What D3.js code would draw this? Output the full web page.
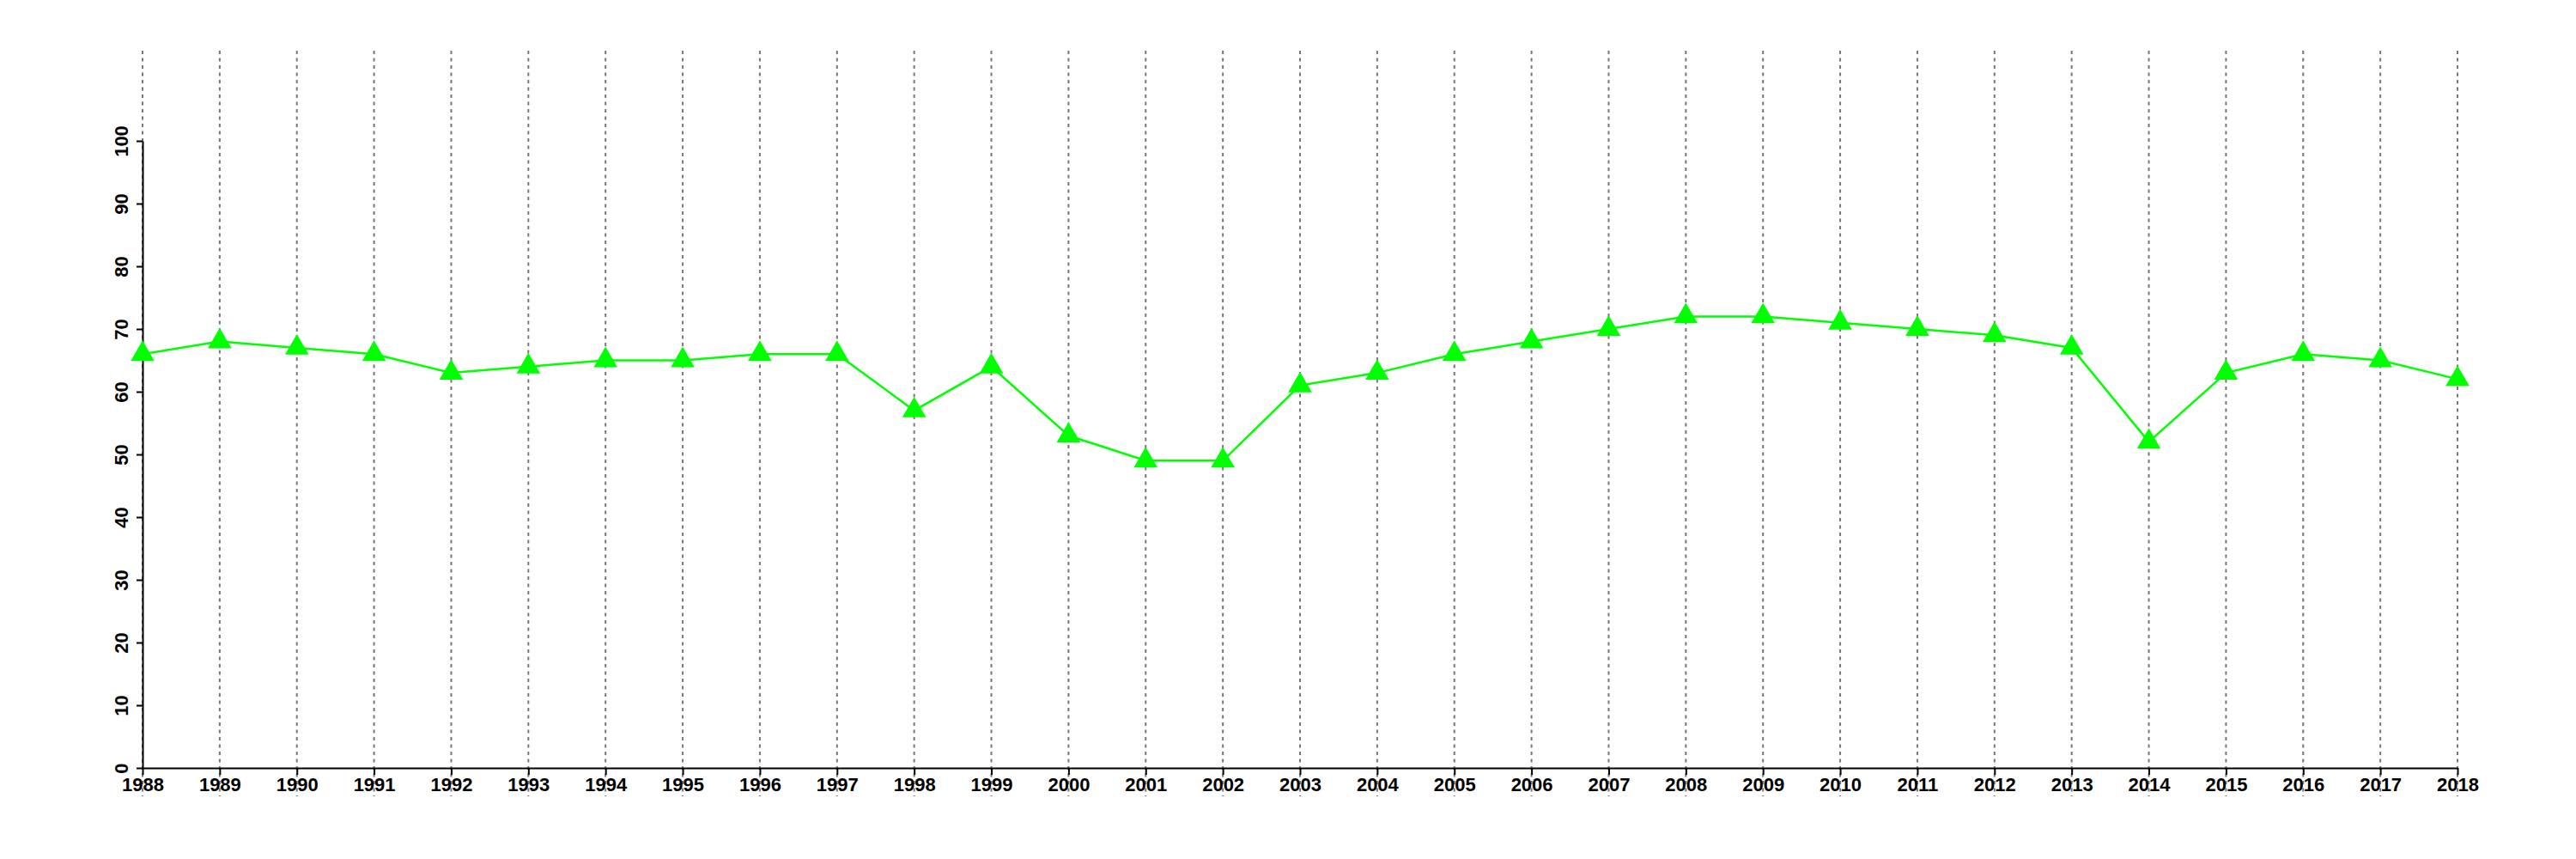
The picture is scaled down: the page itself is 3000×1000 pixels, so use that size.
<!DOCTYPE html>
<html>
<head>
<meta charset="utf-8">
<script src="https://cdn.jsdelivr.net/npm/d3@7"></script>
<style>
html,body{margin:0;padding:0;background:#fff;}
svg{display:block;}
.tick text{font-family:"Liberation Sans",Arial,Helvetica,sans-serif;font-weight:bold;font-size:22px;fill:#000;}
</style>
</head>
<body>
<svg id="chart" width="3000" height="1000"></svg>
<script>
const years = [1988,1989,1990,1991,1992,1993,1994,1995,1996,1997,1998,1999,2000,2001,2002,2003,2004,2005,2006,2007,2008,2009,2010,2011,2012,2013,2014,2015,2016,2017,2018];
const values = [66,68,67,66,63,64,65,65,66,66,57,64,53,49,49,61,63,66,68,70,72,72,71,70,69,67,52,63,66,65,62];
const yTicks = [0,10,20,30,40,50,60,70,80,90,100];

const svg = d3.select("#chart");
const x = d3.scaleLinear().domain([1988,2018]).range([166,2862]);
const y = d3.scaleLinear().domain([0,100]).range([894,164]);

// vertical dashed gridlines
svg.append("g").selectAll("line").data(years).join("line")
  .attr("x1", d => x(d)).attr("x2", d => x(d))
  .attr("y1", 59).attr("y2", 927)
  .attr("stroke", "#777").attr("stroke-width", 2)
  .attr("stroke-dasharray", "4,4.5");

// x axis
const xAxis = svg.append("g").attr("transform", `translate(0,${y(0)})`)
  .call(d3.axisBottom(x).tickValues(years).tickFormat(d3.format("d")).tickSize(8).tickSizeOuter(0).tickPadding(3));
xAxis.select(".domain").attr("stroke", "#000").attr("stroke-width", 2);
xAxis.selectAll(".tick line").attr("stroke", "#000").attr("stroke-width", 2);

// y axis
const yAxis = svg.append("g").attr("transform", `translate(${x(1988)},0)`)
  .call(d3.axisLeft(y).tickValues(yTicks).tickSize(7).tickSizeOuter(0));
yAxis.select(".domain").attr("stroke", "#000").attr("stroke-width", 2);
yAxis.selectAll(".tick line").attr("stroke", "#000").attr("stroke-width", 2);
yAxis.selectAll(".tick text")
  .attr("x", null).attr("dy", null)
  .attr("text-anchor", "middle")
  .attr("transform", "translate(-17,0) rotate(-90)")
  .attr("y", 0);

// line
const line = d3.line().x((d,i) => x(years[i])).y(d => y(d));
svg.append("path").datum(values)
  .attr("d", line).attr("fill", "none")
  .attr("stroke", "#00ff00").attr("stroke-width", 2.5);

// markers
const tri = d3.symbol().type(d3.symbolTriangle).size(330);
svg.append("g").selectAll("path").data(values).join("path")
  .attr("d", tri)
  .attr("transform", (d,i) => `translate(${x(years[i])},${y(d)})`)
  .attr("fill", "#00ff00");
</script>
</body>
</html>
